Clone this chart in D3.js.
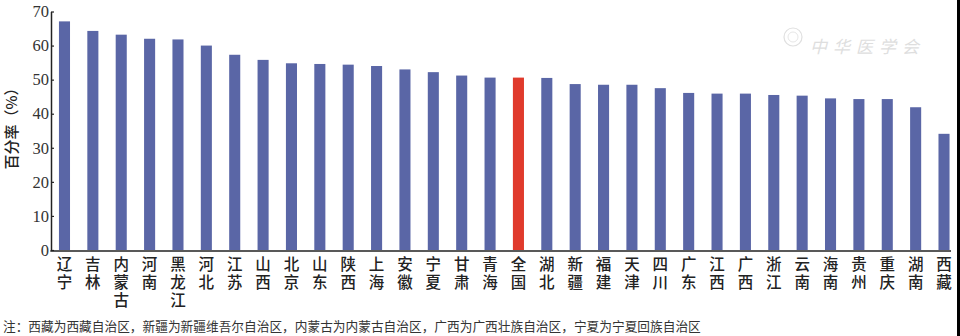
<!DOCTYPE html>
<html>
<head>
<meta charset="utf-8">
<script src="https://cdn.jsdelivr.net/npm/d3@7"></script>
<style>
  html, body { margin: 0; padding: 0; background: #fff; }
  svg { display: block; }
</style>
</head>
<body>
<svg id="chart" width="960" height="336"></svg>
<script>
const categories = ["辽宁","吉林","内蒙古","河南","黑龙江","河北","江苏","山西","北京","山东","陕西","上海","安徽","宁夏","甘肃","青海","全国","湖北","新疆","福建","天津","四川","广东","江西","广西","浙江","云南","海南","贵州","重庆","湖南","西藏"];
const values = [67.1,64.3,63.2,62.0,61.8,60.0,57.3,55.8,54.8,54.6,54.4,54.0,53.0,52.2,51.2,50.6,50.6,50.5,48.7,48.5,48.5,47.5,46.1,45.9,45.9,45.5,45.3,44.5,44.3,44.3,41.9,34.1];
const highlight = ["全国"];
const yTicks = [0,10,20,30,40,50,60,70];
const yTitle = "百分率（%）";
const note = "注：西藏为西藏自治区，新疆为新疆维吾尔自治区，内蒙古为内蒙古自治区，广西为广西壮族自治区，宁夏为宁夏回族自治区";
const watermark = "中华医学会";

const svg = d3.select("#chart");
const W = 960, H = 336;

const x = d3.scaleBand().domain(categories).range([50.3, 958.2]).paddingInner(0.61).paddingOuter(0.305);
const y = d3.scaleLinear().domain([0, 70]).range([250, 11.5]);

// watermark
const wm = svg.append("g").attr("fill", "none").attr("stroke", "#e0e0e0");
wm.append("circle").attr("cx", 793).attr("cy", 37).attr("r", 9).attr("stroke-width", 1.2);
wm.append("circle").attr("cx", 793).attr("cy", 37).attr("r", 5).attr("stroke-width", 0.8);
svg.append("text").attr("x", 810).attr("y", 53)
  .attr("font-family", "Noto Sans CJK SC").attr("font-size", 17).attr("font-style", "italic")
  .attr("letter-spacing", 6).attr("fill", "#dedede").text(watermark);

// bars
svg.append("g").selectAll("rect").data(categories).join("rect")
  .attr("x", d => x(d))
  .attr("width", x.bandwidth())
  .attr("y", (d, i) => y(values[i]))
  .attr("height", (d, i) => y(0) - y(values[i]))
  .attr("fill", d => highlight.includes(d) ? "#e03a2c" : "#5a66a6");

// y axis
const yAxis = svg.append("g").attr("transform", "translate(51,0)")
  .call(d3.axisLeft(y).tickValues(yTicks).tickSizeInner(-3).tickSizeOuter(0).tickPadding(2));
yAxis.select(".domain").attr("stroke", "#222").attr("stroke-width", 1.5);
yAxis.selectAll(".tick line").attr("stroke", "#222").attr("stroke-width", 1.2);
yAxis.selectAll(".tick text").attr("font-family", "Liberation Serif").attr("font-size", 16.5).attr("fill", "#333");

// x baseline
svg.append("line").attr("x1", 50.3).attr("x2", 951).attr("y1", 251).attr("y2", 251)
  .attr("stroke", "#222").attr("stroke-width", 1.6);

// x labels: vertical writing, one text per category
svg.append("g").attr("font-family", "Noto Sans CJK SC").attr("font-weight", 500)
  .attr("font-size", 15.5).attr("fill", "#222")
  .selectAll("text").data(categories).join("text")
  .style("writing-mode", "vertical-rl")
  .attr("letter-spacing", 2.5)
  .attr("x", d => x(d) + x.bandwidth() / 2)
  .attr("y", 256)
  .text(d => d);

// y title
svg.append("text").attr("transform", "translate(17,125) rotate(-90)")
  .attr("text-anchor", "middle").attr("font-family", "Noto Sans CJK SC").attr("font-weight", 500)
  .attr("font-size", 15).attr("fill", "#222").text(yTitle);

// note
svg.append("text").attr("x", 3).attr("y", 331)
  .attr("font-family", "Noto Sans CJK SC").attr("font-size", 12.7).attr("fill", "#333")
  .text(note);

// right border band
svg.append("rect").attr("x", 957).attr("y", 0).attr("width", 3).attr("height", H).attr("fill", "#000");
</script>
</body>
</html>
